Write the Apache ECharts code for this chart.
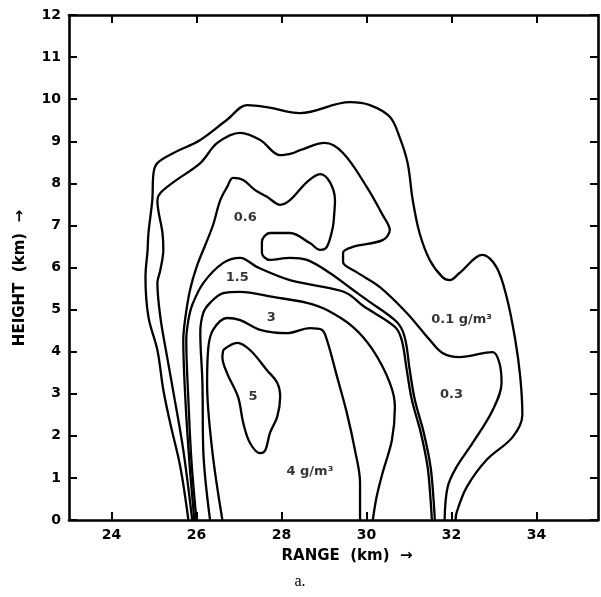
<!DOCTYPE html>
<html><head><meta charset="utf-8">
<script src="https://cdn.jsdelivr.net/npm/echarts@6/dist/echarts.min.js"></script>
<style>html,body{margin:0;padding:0;background:#fff}#c{width:601px;height:597px}</style>
</head><body><div id="c"></div>
<script>
// Axis ticks
const xTicks = [24, 26, 28, 30, 32, 34];
const yTicks = [0,1,2,3,4,5,6,7,8,9,10,11,12];

// Contours [range km, height km]
const contour01 = [[25.81,0],[25.62,1.26],[25.38,2.31],[25.22,3.09],[25.08,4.04],[24.87,4.82],[24.80,5.77],[24.85,6.42],[24.87,6.82],[24.96,7.60],[24.99,8.25],[25.08,8.48],[25.46,8.72],[26.09,9.03],[26.72,9.51],[27.19,9.86],[27.66,9.81],[28.44,9.67],[29.61,9.93],[30.08,9.86],[30.55,9.58],[30.78,9.10],[30.97,8.48],[31.09,7.60],[31.25,6.82],[31.49,6.18],[31.79,5.77],[31.96,5.70],[32.19,5.87],[32.73,6.30],[33.06,6.01],[33.30,5.30],[33.50,4.30],[33.62,3.40],[33.67,2.50],[33.44,1.97],[32.83,1.43],[32.36,0.78],[32.12,0.17],[32.10,0]];
const contour03 = [[25.90,0],[25.69,1.66],[25.46,3.02],[25.31,3.87],[25.15,4.82],[25.08,5.63],[25.15,5.94],[25.22,6.42],[25.20,6.82],[25.08,7.60],[25.15,7.77],[25.46,8.03],[26.09,8.48],[26.49,8.96],[27.03,9.20],[27.50,9.03],[27.97,8.67],[28.27,8.72],[28.44,8.79],[29.02,8.96],[29.45,8.72],[30.01,7.91],[30.38,7.25],[30.55,6.89],[30.38,6.65],[29.68,6.49],[29.45,6.35],[29.45,6.13],[29.77,5.89],[30.31,5.54],[30.95,4.92],[31.49,4.28],[31.79,3.97],[32.19,3.87],[32.97,3.99],[33.13,3.73],[33.18,3.26],[32.97,2.61],[32.50,1.83],[32.12,1.26],[31.91,0.78],[31.84,0]];
const contour06 = [[25.95,0],[25.83,1.43],[25.74,2.85],[25.69,4.28],[25.74,4.82],[25.85,5.47],[26.02,6.06],[26.21,6.54],[26.39,7.01],[26.56,7.60],[26.72,7.91],[26.86,8.13],[27.10,8.08],[27.38,7.84],[27.66,7.68],[27.97,7.49],[28.20,7.60],[28.60,8.03],[28.91,8.22],[29.14,8.03],[29.26,7.60],[29.24,7.25],[29.21,6.96],[29.07,6.49],[28.91,6.42],[28.67,6.58],[28.20,6.82],[27.73,6.82],[27.54,6.61],[27.54,6.35],[27.73,6.18],[28.20,6.23],[28.60,6.18],[29.14,5.87],[29.68,5.47],[30.01,5.23],[30.71,4.71],[30.90,4.35],[31.02,3.56],[31.14,2.85],[31.35,2.07],[31.51,1.26],[31.58,0.48],[31.61,0]];
const contour15 = [[26.00,0],[25.88,1.43],[25.81,2.85],[25.76,4.28],[25.81,4.75],[25.90,5.11],[26.16,5.63],[26.63,6.11],[27.03,6.23],[27.43,6.01],[28.20,5.70],[28.98,5.54],[29.54,5.39],[29.92,5.09],[30.67,4.59],[30.83,4.28],[30.95,3.56],[31.07,2.85],[31.28,2.07],[31.44,1.26],[31.51,0.48],[31.54,0]];
const contour3 = [[26.32,0],[26.16,1.66],[26.14,3.26],[26.09,4.44],[26.16,4.92],[26.32,5.16],[26.63,5.39],[27.03,5.42],[27.80,5.30],[28.60,5.16],[29.07,4.99],[29.68,4.59],[30.15,4.04],[30.55,3.26],[30.67,2.69],[30.60,1.90],[30.38,1.12],[30.24,0.55],[30.15,0]];
const contour4 = [[26.61,0],[26.37,1.66],[26.25,3.26],[26.28,4.11],[26.39,4.52],[26.72,4.80],[27.03,4.75],[27.50,4.52],[28.13,4.44],[28.67,4.56],[28.95,4.52],[29.07,4.28],[29.31,3.40],[29.54,2.54],[29.73,1.66],[29.85,0.88],[29.85,0]];
const contour5 = [[26.63,4.04],[26.96,4.21],[27.26,4.04],[27.66,3.56],[27.90,3.26],[27.97,2.92],[27.90,2.45],[27.73,2.07],[27.62,1.66],[27.50,1.59],[27.26,1.83],[27.10,2.31],[26.98,2.92],[26.72,3.49],[26.61,3.87],[26.63,4.04]];

// Contour labels [range, height, text]
const contourLabels = [
  [27.15, 7.18, '0.6'],
  [26.96, 5.77, '1.5'],
  [27.76, 4.82, '3'],
  [27.33, 2.92, '5'],
  [28.67, 1.14, '4 g/m³'],
  [32.24, 4.75, '0.1 g/m³'],
  [32.00, 2.97, '0.3']
];

const FONT = 'DejaVu Sans';
const chart = echarts.init(document.getElementById('c'), null, {renderer: 'canvas'});
const lineStyle = {color: '#000', width: 2.3};
const mk = (name, data) => ({
  type: 'line', name, data, smooth: 0.35, showSymbol: false, symbol: 'none',
  lineStyle, silent: true, clip: false, z: 3
});
const axisCommon = {
  type: 'value', splitLine: {show: false},
  axisLine: {show: true, onZero: false, lineStyle: {color: '#000', width: 2.6}},
  axisTick: {show: true, inside: true, length: 8, lineStyle: {color: '#000', width: 2}}
};
chart.setOption({
  animation: false,
  backgroundColor: '#fff',
  grid: {left: 69, top: 15, right: 3, bottom: 77, containLabel: false},
  xAxis: [
    Object.assign({}, axisCommon, {
      position: 'bottom', min: 23, max: 35.45,
      axisTick: Object.assign({}, axisCommon.axisTick, {customValues: xTicks}),
      axisLabel: {customValues: xTicks, color: '#000', fontFamily: FONT, fontWeight: 'bold', fontSize: 14, margin: 8}
    }),
    Object.assign({}, axisCommon, {
      position: 'top', min: 23, max: 35.45,
      axisTick: Object.assign({}, axisCommon.axisTick, {customValues: xTicks}),
      axisLabel: {show: false}
    })
  ],
  yAxis: [
    Object.assign({}, axisCommon, {
      position: 'left', min: 0, max: 12, interval: 1,
      axisLabel: {color: '#000', fontFamily: FONT, fontWeight: 'bold', fontSize: 14, margin: 8,
        customValues: yTicks}
    }),
    Object.assign({}, axisCommon, {
      position: 'right', min: 0, max: 12, interval: 1,
      axisLabel: {show: false}
    })
  ],
  series: [
    mk('0.1', contour01), mk('0.3', contour03), mk('0.6', contour06), mk('1.5', contour15),
    mk('3', contour3), mk('4', contour4), mk('5', contour5),
    {
      type: 'scatter', symbolSize: 0, silent: true, z: 5,
      data: contourLabels.map(l => ({value: [l[0], l[1]], name: l[2]})),
      label: {show: true, position: 'inside', formatter: '{b}', color: '#000',
        textBorderWidth: 0, fontFamily: FONT, fontWeight: 'bold', fontSize: 13}
    }
  ],
  graphic: [
    {type: 'text', x: 347, y: 556, style: {text: 'RANGE  (km)  →', font: 'bold 15px "DejaVu Sans"', fill: '#000',
      textAlign: 'center', textVerticalAlign: 'middle', align: 'center', verticalAlign: 'middle'}},
    {type: 'text', x: 20, y: 278, rotation: Math.PI / 2, style: {text: 'HEIGHT  (km)  →', font: 'bold 15px "DejaVu Sans"', fill: '#000',
      textAlign: 'center', textVerticalAlign: 'middle', align: 'center', verticalAlign: 'middle'}},
    {type: 'text', x: 300, y: 582, style: {text: 'a.', font: '16px "Liberation Serif"', fill: '#000',
      textAlign: 'center', textVerticalAlign: 'middle', align: 'center', verticalAlign: 'middle'}}
  ]
});
</script></body></html>
